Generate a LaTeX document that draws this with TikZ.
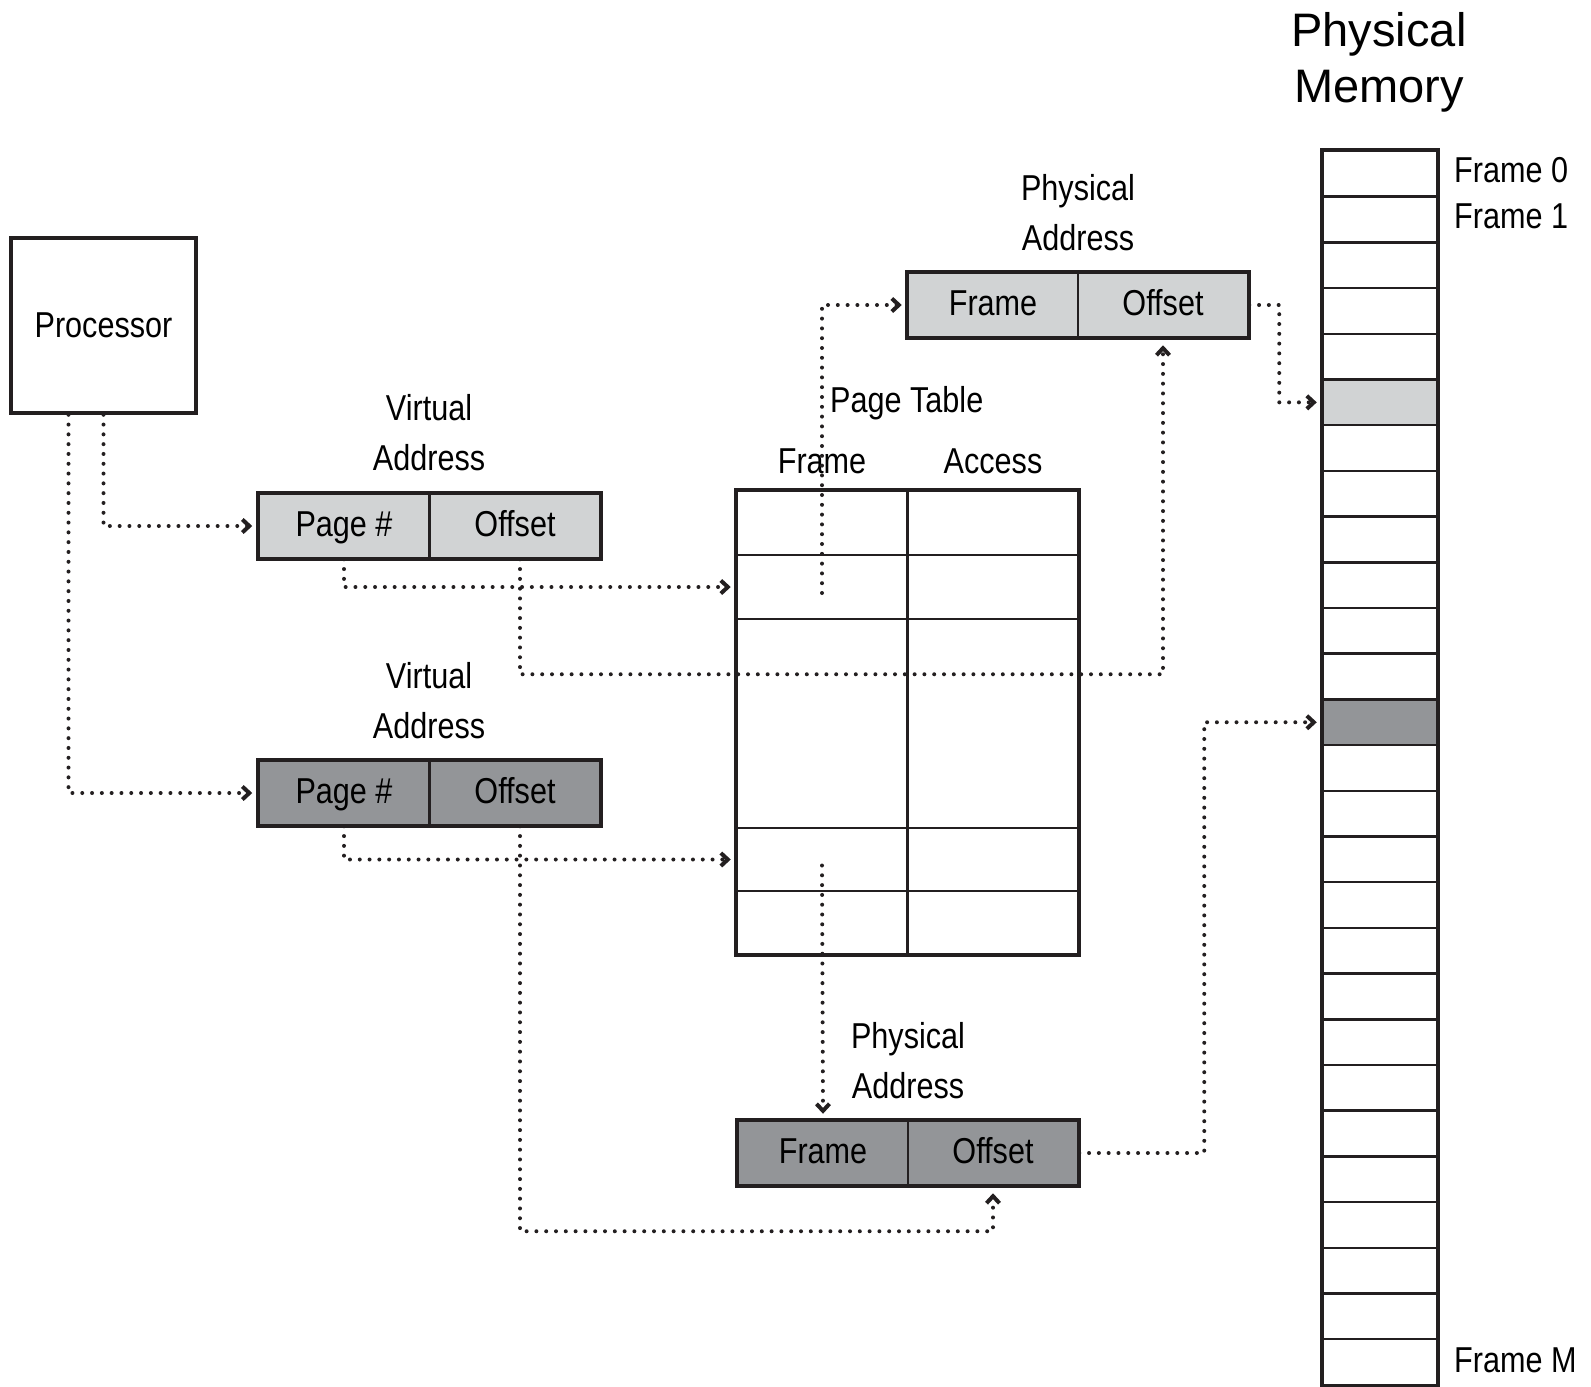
\documentclass[tikz,border=0pt]{standalone}
\usepackage{fontspec}
\setmainfont[FakeStretch=0.85]{Liberation Sans}
\newfontfamily\titlefont{Liberation Sans}
\usetikzlibrary{arrows.meta}
\definecolor{ink}{HTML}{231F20}
\definecolor{lightg}{HTML}{D1D3D4}
\definecolor{darkg}{HTML}{939598}
\tikzset{
  lbl/.style={font=\fontsize{36}{50}\selectfont, text=black, inner sep=0pt, align=center},
  cell/.style={draw=ink, line width=2.5pt, inner sep=0pt, font=\fontsize{36}{40}\selectfont,
    text height=25pt, text depth=4pt},
  addrlight/.style={cell, fill=lightg, minimum height=64pt},
  addrdark/.style={cell, fill=darkg, minimum height=64pt},
  ptcell/.style={draw=ink, line width=2.5pt, inner sep=0pt, minimum width=170pt},
  memcell/.style={draw=ink, line width=2.5pt, inner sep=0pt, minimum width=114pt, minimum height=45.7pt},
  conn/.style={line width=4pt, line cap=round, dash pattern=on 0pt off 9.8pt, ink,
    -{Straight Barb[length=7pt,width=13pt,line width=4pt]}},
}
\begin{document}
\begin{tikzpicture}[x=1pt,y=-1pt]
\useasboundingbox (0,0) rectangle (1591,1387);

% Processor
\node[draw=ink, line width=3.5pt, minimum width=185pt, minimum height=175pt, inner sep=0pt,
  font=\fontsize{36}{40}\selectfont] (proc) at (103.5,325.5) {Processor};

% Virtual address 1
\node[lbl] (va1lbl) at (429,433) {Virtual\\Address};
\node[addrlight, minimum width=171pt] (va1p) at (344,526) {Page \#};
\node[addrlight, minimum width=171pt] (va1o) at (515,526) {Offset};
\draw[ink, line width=3pt] (va1p.north west) rectangle (va1o.south east);

% Virtual address 2
\node[lbl] (va2lbl) at (429,701) {Virtual\\Address};
\node[addrdark, minimum width=171pt] (va2p) at (344,793) {Page \#};
\node[addrdark, minimum width=171pt] (va2o) at (515,793) {Offset};
\draw[ink, line width=3pt] (va2p.north west) rectangle (va2o.south east);

% Physical address (top)
\node[lbl] (pa1lbl) at (1078,213) {Physical\\Address};
\node[addrlight, minimum width=170pt] (pa1f) at (993,305) {Frame};
\node[addrlight, minimum width=170pt] (pa1o) at (1163,305) {Offset};
\draw[ink, line width=3pt] (pa1f.north west) rectangle (pa1o.south east);

% Physical address (bottom)
\node[lbl] (pa2lbl) at (908,1061) {Physical\\Address};
\node[addrdark, minimum width=170pt] (pa2f) at (823,1153) {Frame};
\node[addrdark, minimum width=170pt] (pa2o) at (993,1153) {Offset};
\draw[ink, line width=3pt] (pa2f.north west) rectangle (pa2o.south east);

% Page table
\node[lbl, anchor=west] (ptlbl) at (830,403) {Page Table};
\node[lbl] (ptfh) at (822,461) {Frame};
\node[lbl] (ptah) at (993,461) {Access};
\foreach \r/\a/\b in {1/491/555, 2/555/619, 3/619/828, 4/828/891, 5/891/954} {
  \node[ptcell, minimum height={(\b-\a)*1pt}] (ptf\r) at (822,{(\a+\b)/2}) {};
  \node[ptcell, minimum height={(\b-\a)*1pt}] (pta\r) at (993,{(\a+\b)/2}) {};
}
\draw[ink, line width=3.5pt] (ptf1.north west) rectangle (pta5.south east);

% Physical memory
\node[font=\titlefont\fontsize{47}{56}\selectfont, align=center, inner sep=0pt] (memlbl) at (1379,62) {Physical\\Memory};
\foreach \i in {0,...,26} {
  \node[memcell] (mem\i) at (1380,{151+45.7*\i+22.85}) {};
}
\node[memcell, fill=lightg] at (mem5) {};
\node[memcell, fill=darkg] at (mem12) {};
\draw[ink, line width=3.5pt] (mem0.north west) rectangle (mem26.south east);
\node[lbl, anchor=west] (f0) at (1454,170) {Frame 0};
\node[lbl, anchor=west] (f1) at (1454,216) {Frame 1};
\node[lbl, anchor=west] (fm) at (1454,1360) {Frame M};

% Connectors
\draw[conn] (proc.south) |- ([xshift=-5pt]va1p.west);
\draw[conn] ([xshift=-35pt]proc.south) |- ([xshift=-5pt]va2p.west);
\draw[conn] (va1p.south) |- ([xshift=-5pt]ptf2.west);
\draw[conn] ([xshift=5pt]va1o.south) -- ++(0,115) -| ([yshift=-7pt]pa1o.south);
\draw[conn] ([yshift=-6pt]ptf2.center) |- ([xshift=-5pt]pa1f.west);
\draw[conn] (pa1o.east) -- ++(30,0) |- ([xshift=-5pt]mem5.west);
\draw[conn] (va2p.south) |- ([xshift=-5pt]ptf4.west);
\draw[conn] ([yshift=-6pt]ptf4.center) -- ([yshift=6pt]pa2f.north);
\draw[conn] ([xshift=5pt]va2o.south) -- ++(0,405) -| ([yshift=-7pt]pa2o.south);
\draw[conn] (pa2o.east) -- ++(125,0) |- ([xshift=-5pt]mem12.west);
\end{tikzpicture}
\end{document}
